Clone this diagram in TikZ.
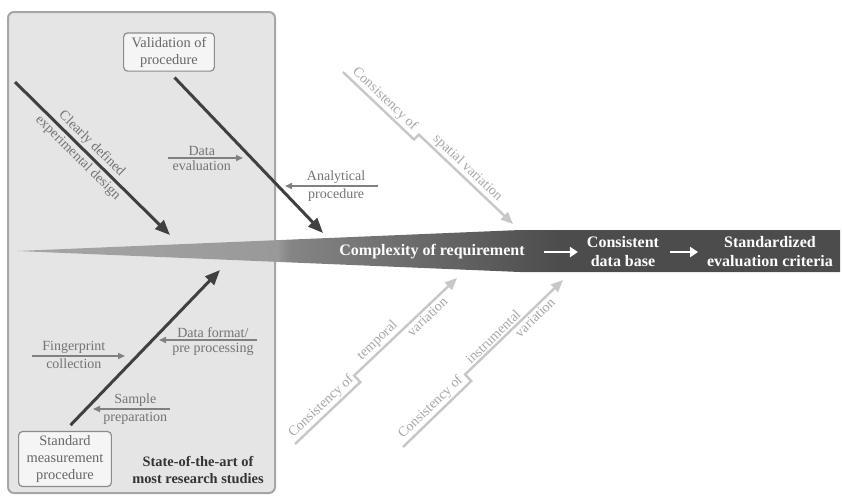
\documentclass[tikz,border=0pt]{standalone}
\usepackage{fontspec}
\setmainfont{Liberation Serif}
\usetikzlibrary{arrows.meta}

% spine colour runs from light to dark
\pgfdeclarehorizontalshading{spineshade}{100bp}{color(0bp)=(black!35); color(25bp)=(black!35); color(40.8bp)=(black!40); color(41.6bp)=(black!48); color(58bp)=(black!70); color(100bp)=(black!70)}

\tikzset{
  lbl/.style={font=\fontsize{7}{8.5}\selectfont, text=black!55, inner sep=1pt},
  faint/.style={font=\fontsize{7}{8.5}\selectfont, text=black!35, inner sep=1.2pt},
  spinetxt/.style={font=\fontsize{8}{9.5}\selectfont\bfseries, text=white, align=center},
  procbox/.style={draw=black!45, fill=black!4, rounded corners=2pt, line width=0.6pt, align=center,
    font=\fontsize{7.2}{8.5}\selectfont, text=black!60, inner xsep=4pt, inner ysep=2pt},
  bone/.style={draw=black!75, line width=1.5pt, -{Triangle[length=7.5pt,width=6pt]}},
  twig/.style={draw=black!50, line width=0.8pt, -{Triangle[length=3.5pt,width=3pt]}},
  ghost/.style={draw=black!22, line width=1.2pt, -{Triangle[length=6pt,width=5pt]}},
  spinearrow/.style={draw=white, line width=1.2pt, -{Triangle[length=4pt,width=5pt]}}
}

\begin{document}
\begin{tikzpicture}[x=0.5pt,y=-0.5pt]
    \useasboundingbox (0,0) rectangle (842,495);

    % state-of-the-art panel
    \draw[draw=black!35, fill=black!10, line width=1pt, rounded corners=3pt] (8,12) rectangle (275,493);

    % spine
    \shade[shading=spineshade] (17,251) -- (520,230) -- (840,230) -- (840,272) -- (520,272) -- cycle;
    \node[spinetxt] (cplx) at (432,252) {Complexity of requirement};
    \node[spinetxt] (cdb) at (623,252) {Consistent\\data base};
    \node[spinetxt] (crit) at (770,252) {Standardized\\evaluation criteria};
    \draw[spinearrow, shorten <=6pt, shorten >=1pt] (cplx) -- (cdb);
    \draw[spinearrow, shorten <=2pt, shorten >=1pt] (cdb) -- (crit);

    % main bones
    \node[procbox] (valid) at (169,52) {Validation of\\procedure};
    \node[procbox] (stdproc) at (65,459) {Standard\\measurement\\procedure};
    \coordinate (design0) at (15,82);
    \coordinate (design1) at (170,235);
    \coordinate (validend) at (323,233);
    \coordinate (stdend) at (220,270);
    \draw[bone] (design0) -- (design1)
        node[pos=0.45, sloped, above, lbl] (design-a) {Clearly defined}
        node[pos=0.45, sloped, below, lbl] (design-b) {experimental design};
    \draw[bone, shorten <=4pt] (valid.south) -- (validend);
    \draw[bone, shorten <=4pt] (stdproc.north) -- (stdend);

    % side arrows
    \coordinate (eval0) at (168,158);
    \coordinate (eval1) at (243,158);
    \draw[twig] (eval0) -- (eval1)
        node[pos=0.45, above, lbl] (eval-a) {Data}
        node[pos=0.45, below, lbl] (eval-b) {evaluation};
    \coordinate (anal0) at (378,186);
    \coordinate (anal1) at (285,186);
    \draw[twig] (anal0) -- (anal1)
        node[pos=0.45, above, lbl] (anal-a) {Analytical}
        node[pos=0.45, below, lbl] (anal-b) {procedure};
    \coordinate (format0) at (257,340);
    \coordinate (format1) at (159,340);
    \draw[twig] (format0) -- (format1)
        node[pos=0.45, above, lbl] (format-a) {Data format/}
        node[pos=0.45, below, lbl] (format-b) {pre processing};
    \coordinate (finger0) at (32,356);
    \coordinate (finger1) at (125,356);
    \draw[twig] (finger0) -- (finger1)
        node[pos=0.45, above, lbl] (finger-a) {Fingerprint}
        node[pos=0.45, below, lbl] (finger-b) {collection};
    \coordinate (sample0) at (170,409);
    \coordinate (sample1) at (93,409);
    \draw[twig] (sample0) -- (sample1)
        node[pos=0.45, above, lbl] (sample-a) {Sample}
        node[pos=0.45, below, lbl] (sample-b) {preparation};

    \node[font=\fontsize{7.2}{8.5}\selectfont\bfseries, text=black!80, align=center] (sota) at (198,470)
        {State-of-the-art of\\most research studies};

    % consistency bones
    \coordinate (spat0) at (343,72);
    \coordinate (spat1) at (414,139.5);
    \coordinate (spat2) at (418.9,134.6);
    \coordinate (spat3) at (513,224);
    \draw[ghost] (spat0) -- (spat1) -- (spat2) -- (spat3);
    \path (spat0) -- (spat1) node[midway, sloped, above, faint] (spat-a) {Consistency of};
    \path (spat2) -- (spat3) node[pos=0.45, sloped, above, faint] (spat-b) {spatial variation};

    \coordinate (temp0) at (295,444);
    \coordinate (temp1) at (360.3,382.1);
    \coordinate (temp2) at (354.1,375.6);
    \coordinate (temp3) at (457,278);
    \draw[ghost] (temp0) -- (temp1) -- (temp2) -- (temp3);
    \path (temp0) -- (temp1) node[midway, sloped, above, faint] (temp-a) {Consistency of};
    \path (temp2) -- (temp3)
        node[pos=0.29, sloped, above, faint] (temp-b) {temporal}
        node[pos=0.66, sloped, below, faint] (temp-c) {variation};

    \coordinate (inst0) at (403,447);
    \coordinate (inst1) at (471.3,381);
    \coordinate (inst2) at (465.1,374.5);
    \coordinate (inst3) at (563,280);
    \draw[ghost] (inst0) -- (inst1) -- (inst2) -- (inst3);
    \path (inst0) -- (inst1) node[midway, sloped, above, faint] (inst-a) {Consistency of};
    \path (inst2) -- (inst3)
        node[pos=0.34, sloped, above, faint] (inst-b) {instrumental}
        node[pos=0.66, sloped, below, faint] (inst-c) {variation};

\end{tikzpicture}
\end{document}
